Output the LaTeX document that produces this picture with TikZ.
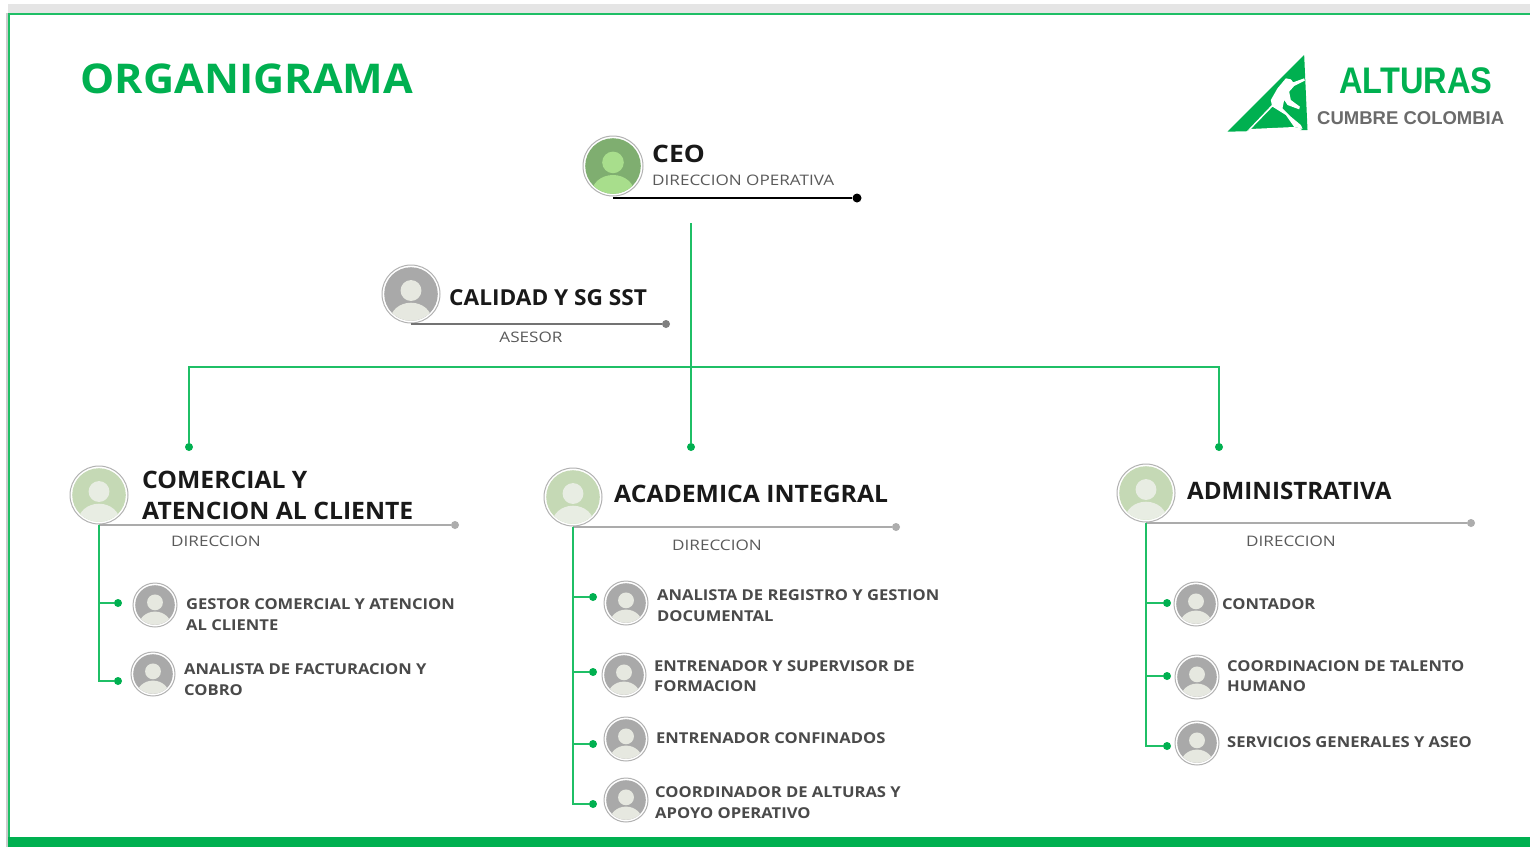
\documentclass[tikz,border=0pt]{standalone}
\usepackage{fontspec}
\setmainfont{Open Sans}
\newfontfamily\logofont[FakeStretch=0.88]{Liberation Sans}
\newfontfamily\logosub{Liberation Sans}
\newfontfamily\titlefont[FakeStretch=1.05]{Open Sans}
\newfontfamily\headfont[FakeStretch=1.03]{Open Sans}
\newfontfamily\admfont[FakeStretch=1.005]{Open Sans}
\newfontfamily\rolefont[FakeStretch=1.105]{Open Sans}
\newfontfamily\subfont[FakeStretch=1.18]{Open Sans}
\newfontfamily\ceofont[FakeStretch=1.1]{Open Sans}
\definecolor{brand}{HTML}{00B050}
\definecolor{linegreen}{HTML}{1FBF66}
\definecolor{chiptext}{HTML}{4A4A4A}
\definecolor{subtext}{HTML}{5A5A5A}
\definecolor{ceobg}{HTML}{7FAE70}
\definecolor{ceofg}{HTML}{A8DE8C}
\definecolor{dirbg}{HTML}{C5D9B5}
\definecolor{dirfg}{HTML}{E8EDE3}
\definecolor{staffbg}{HTML}{A9A9A9}
\definecolor{stafffg}{HTML}{E6E8E0}
\tikzset{
 x=1pt,y=-1pt,
 txt/.style={inner sep=0pt,anchor=west,align=left},
 headtxt/.style={txt,font=\headfont\fontsize{24}{31}\selectfont\bfseries,text=black!90},
 rolehead/.style={txt,font=\rolefont\fontsize{15}{20.5}\selectfont\bfseries,text=chiptext},
 subt/.style={txt,font=\subfont\fontsize{14.5}{18}\selectfont,text=subtext},
 dotg/.style={circle,fill=brand,inner sep=0pt,minimum size=8pt},
 dotgrey/.style={circle,fill=black!32,inner sep=0pt,minimum size=8pt},
 glink/.style={draw=linegreen,line width=1.6pt},
 ruleg/.style={draw=black!33,line width=1.5pt},
}
\newcommand{\avatar}[6]{%
 \node[circle,draw=black!30,line width=1pt,fill=white,inner sep=0pt,minimum size=#4*2pt] (#1) at (#2,#3) {};
 \begin{scope}
 \clip (#2,#3) circle[radius=#4-2.2];
 \fill[#5] (#2,#3) circle[radius=#4];
 \fill[#6] (#2,#3-0.12*#4) circle[radius=0.36*#4];
 \fill[#6] (#2,#3+0.92*#4) ellipse[x radius=0.72*#4,y radius=0.62*#4];
 \end{scope}}
\begin{document}
\begin{tikzpicture}
\useasboundingbox (0,0) rectangle (1530,847);
\fill[white] (0,0) rectangle (1530,847);
\fill[black!10] (8,4) rectangle (1530,13);
\fill[black!20] (6,13) rectangle (8,847);
\draw[linegreen,line width=2pt] (1530,14) -- (9,14) -- (9,847);
\fill[brand] (8,837) rectangle (1530,847);
% title
\node[txt,font=\titlefont\fontsize{41}{41}\selectfont\bfseries,text=brand] (title) at (80.5,79) {ORGANIGRAMA};
% logo
\begin{scope}[shift={(1222.5,50)},x=0.3333pt,y=-0.3333pt]
\fill[brand] (15,245) -- (245,15) -- (255,240) -- cycle;
\fill[white] (70,247) -- (148,165) -- (145,150) -- (165,115) -- (190,85) -- (205,88) -- (212,97) -- (245,85) -- (247,92) -- (215,108) -- (200,125) -- (205,150) -- (232,170) -- (230,178) -- (195,165) -- (185,150) -- (180,175) -- (205,200) -- (235,225) -- (240,236) -- (215,231) -- (190,195) -- (150,170) -- (85,237) -- cycle;
\fill[white] (70,247) -- (85,237) -- (215,231) -- (240,236) -- (225,247) -- cycle;
\end{scope}
\node[txt,font=\logofont\fontsize{37}{37}\selectfont\bfseries,text=brand] (logoa) at (1339,81) {ALTURAS};
\node[txt,font=\logosub\fontsize{18.5}{19}\selectfont\bfseries,text=black!58] (logob) at (1317,118) {CUMBRE COLOMBIA};
% CEO
\avatar{ceo}{613}{166}{30}{ceobg}{ceofg}
\node[txt,font=\ceofont\fontsize{24}{28}\selectfont\bfseries,text=black!90] (ceot) at (652,153.5) {CEO};
\node[subt] (ceos) at (652,180.5) {DIRECCION OPERATIVA};
\node[circle,fill=black,inner sep=0pt,minimum size=9pt] (ceod) at (857,198) {};
\draw[black,line width=1.6pt] (ceo.south |- ceod) -- (ceod);
% Calidad
\avatar{cal}{411}{294}{29}{staffbg}{stafffg}
\node[txt,font=\headfont\fontsize{22}{28}\selectfont\bfseries,text=black!90] (calt) at (449,297.5) {CALIDAD Y SG SST};
\node[circle,fill=black!50,inner sep=0pt,minimum size=8pt] (cald) at (666,324) {};
\draw[black!55,line width=1.5pt] (cal.south |- cald) -- (cald);
\node[subt,anchor=center] (cals) at (531,337) {ASESOR};
% Tree
\coordinate (tree) at (691,223);
\coordinate (bus) at (691,367);
\node[dotg] (busl) at (189,447) {};
\node[dotg] (busm) at (691,447) {};
\node[dotg] (busr) at (1219,447) {};
\draw[glink] (tree) -- (busm);
\draw[glink] (bus) -| (busl);
\draw[glink] (bus) -| (busr);
% Comercial
\avatar{com}{99}{495}{29}{dirbg}{dirfg}
\node[headtxt] (comt) at (142,495) {COMERCIAL Y\\ATENCION AL CLIENTE};
\node[dotgrey] (comd) at (455,525) {};
\draw[ruleg] (com.south |- comd) -- (comd);
\node[subt] (coms) at (171,541) {DIRECCION};
\node[dotg] (c1) at (118,603) {};
\node[dotg] (c2) at (118,681) {};
\draw[glink] (com.south) |- (c1);
\draw[glink] (com.south) |- (c2);
\avatar{a1}{155}{605}{22}{staffbg}{stafffg}
\avatar{a2}{153}{674}{22}{staffbg}{stafffg}
\node[rolehead] (t1) at (186,614.7) {GESTOR COMERCIAL Y ATENCION\\AL CLIENTE};
\node[rolehead] (t2) at (184,679.7) {ANALISTA DE FACTURACION Y\\COBRO};
% Academica
\avatar{aca}{573}{497}{29}{dirbg}{dirfg}
\node[headtxt] (acat) at (614,494) {ACADEMICA INTEGRAL};
\node[dotgrey] (acad) at (896,527) {};
\draw[ruleg] (aca.south |- acad) -- (acad);
\node[subt] (acas) at (672,545) {DIRECCION};
\node[dotg] (c3) at (593,597) {};
\node[dotg] (c4) at (593,672) {};
\node[dotg] (c5) at (593,744) {};
\node[dotg] (c6) at (593,804) {};
\draw[glink] (aca.south) |- (c3);
\draw[glink] (aca.south) |- (c4);
\draw[glink] (aca.south) |- (c5);
\draw[glink] (aca.south) |- (c6);
\avatar{a3}{626}{603}{22}{staffbg}{stafffg}
\avatar{a4}{624}{675}{22}{staffbg}{stafffg}
\avatar{a5}{626}{739}{22}{staffbg}{stafffg}
\avatar{a6}{626}{800}{22}{staffbg}{stafffg}
\node[rolehead] (t3) at (657,605.7) {ANALISTA DE REGISTRO Y GESTION\\DOCUMENTAL};
\node[rolehead] (t4) at (654,676) {ENTRENADOR Y SUPERVISOR DE\\FORMACION};
\node[rolehead] (t5) at (656,738.5) {ENTRENADOR CONFINADOS};
\node[rolehead] (t6) at (655,802.5) {COORDINADOR DE ALTURAS Y\\APOYO OPERATIVO};
% Administrativa
\avatar{adm}{1146}{493}{29}{dirbg}{dirfg}
\node[txt,font=\admfont\fontsize{24}{31}\selectfont\bfseries,text=black!90] (admt) at (1187,490.5) {ADMINISTRATIVA};
\node[dotgrey] (admd) at (1471,523) {};
\draw[ruleg] (adm.south |- admd) -- (admd);
\node[subt] (adms) at (1246,541) {DIRECCION};
\node[dotg] (c7) at (1167,603) {};
\node[dotg] (c8) at (1167,676) {};
\node[dotg] (c9) at (1167,746) {};
\draw[glink] (adm.south) |- (c7);
\draw[glink] (adm.south) |- (c8);
\draw[glink] (adm.south) |- (c9);
\avatar{a7}{1196}{604}{22}{staffbg}{stafffg}
\avatar{a8}{1197}{677}{22}{staffbg}{stafffg}
\avatar{a9}{1197}{743}{22}{staffbg}{stafffg}
\node[rolehead] (t7) at (1222,604.5) {CONTADOR};
\node[rolehead] (t8) at (1227,676) {COORDINACION DE TALENTO\\HUMANO};
\node[rolehead] (t9) at (1227,741.7) {SERVICIOS GENERALES Y ASEO};
\end{tikzpicture}
\end{document}
